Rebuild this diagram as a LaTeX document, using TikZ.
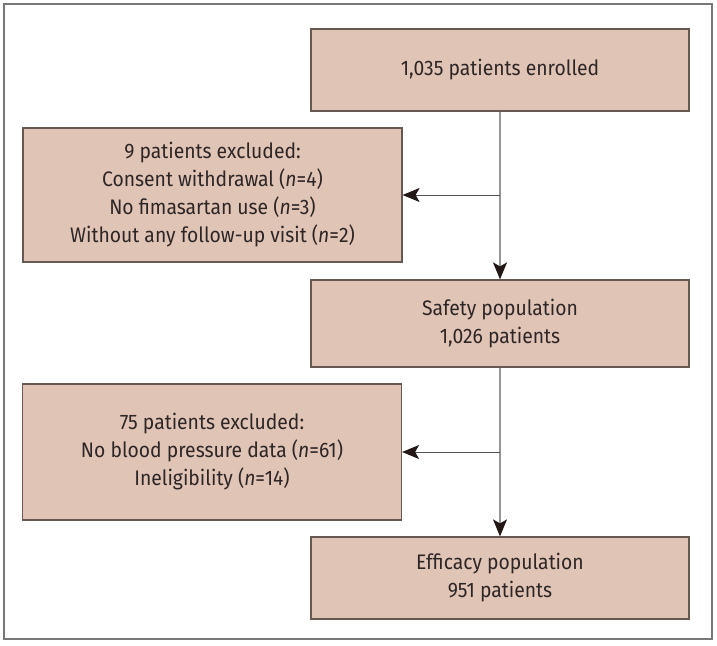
\documentclass[tikz,border=0pt]{standalone}
\usepackage{fontspec}
\setmainfont{Fira Sans}[FakeStretch=0.92]
\usetikzlibrary{arrows.meta}
\definecolor{boxfill}{RGB}{224,196,181}
\definecolor{boxline}{RGB}{104,88,82}
\definecolor{frameline}{RGB}{120,120,120}
\definecolor{vline}{RGB}{150,150,150}
\definecolor{hline}{RGB}{85,85,85}
\definecolor{tipcol}{RGB}{35,24,21}
\definecolor{txt}{RGB}{45,38,38}
\tikzset{
  flowbox/.style={draw=boxline, fill=boxfill, line width=1.2pt, inner sep=0pt,
    align=center, text=txt, font=\fontsize{21}{28}\selectfont},
  tipstyle/.style={-{Stealth[length=17pt,width=14pt,inset=4pt,color=tipcol]}},
  vconn/.style={draw=vline, line width=1.6pt, tipstyle},
  hconn/.style={draw=hline, line width=1pt, tipstyle},
}
\newcommand{\nn}{\textit{n}}
\begin{document}
\begin{tikzpicture}[x=1pt,y=-1pt]
\useasboundingbox (0,0) rectangle (717,645);
\draw[frameline, line width=1.3pt] (4,4) rectangle (712,639);
\node[flowbox, minimum width=378pt, minimum height=82pt] (enr) at (500,70) {1,035 patients enrolled};
\node[flowbox, minimum width=379pt, minimum height=134pt] (exc1) at (212.5,195) {9 patients excluded:\\Consent withdrawal (\nn=4)\\No fimasartan use (\nn=3)\\Without any follow-up visit (\nn=2)};
\node[flowbox, minimum width=378pt, minimum height=87pt] (saf) at (500,323.5) {Safety population\\1,026 patients};
\node[flowbox, minimum width=379pt, minimum height=136pt] (exc2) at (212,452) {75 patients excluded:\\No blood pressure data (\nn=61)\\Ineligibility (\nn=14)};
\node[flowbox, minimum width=378pt, minimum height=82pt] (eff) at (500,578) {Efficacy population\\951 patients};
\coordinate (b1) at (enr.south |- exc1.east);
\coordinate (b2) at (saf.south |- exc2.east);
\draw[vconn] (enr.south) -- (saf.north);
\draw[hconn] (b1) -- (exc1.east);
\draw[vconn] (saf.south) -- (eff.north);
\draw[hconn] (b2) -- (exc2.east);
\end{tikzpicture}
\end{document}
